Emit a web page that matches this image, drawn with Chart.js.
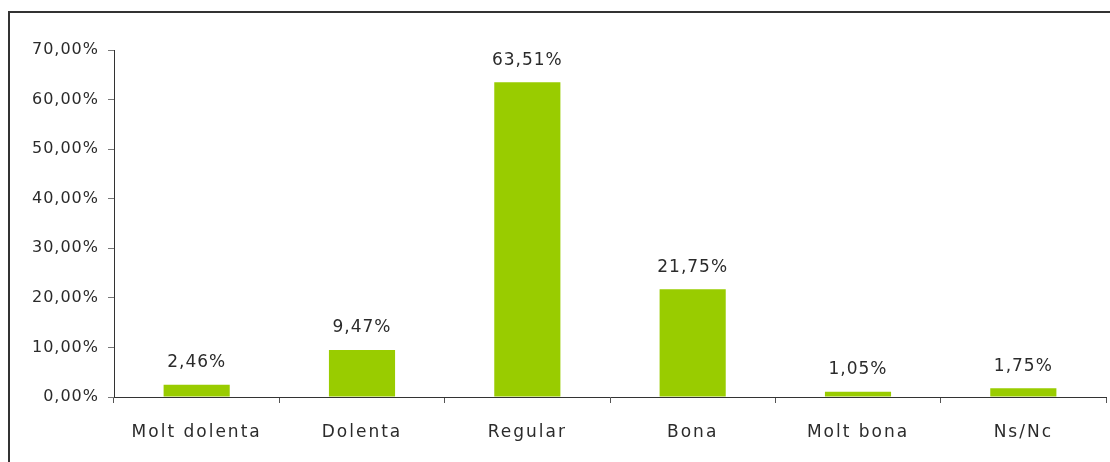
<!DOCTYPE html>
<html>
<head>
<meta charset="utf-8">
<script src="https://cdn.jsdelivr.net/npm/chart.js@4/dist/chart.umd.min.js"></script>
<style>
  html, body { margin: 0; padding: 0; background: #fff; }
  #wrap { position: relative; width: 1110px; height: 462px; }
  #frame { position: absolute; left: 8px; top: 11px; right: -5px; bottom: -5px;
           border-left: 2px solid #333; border-top: 2px solid #333; }
  canvas { position: absolute; left: 0; top: 0; }
</style>
</head>
<body>
<div id="wrap">
  <div id="frame"></div>
  <canvas id="chart" width="1110" height="462"></canvas>
</div>
<script>
// dades
const categories = ['Molt dolenta', 'Dolenta', 'Regular', 'Bona', 'Molt bona', 'Ns/Nc'];
const values = [2.46, 9.47, 63.51, 21.75, 1.05, 1.75];
const yTicks = [0, 10, 20, 30, 40, 50, 60, 70];

const FONT = "'Century Gothic', 'DejaVu Sans', sans-serif";
const TEXT = '#2b2b2b';

function pct(v) {
  return v.toFixed(2).replace('.', ',') + '%';
}

// etiquetes sobre les barres + espaiat de lletres
const valueLabels = {
  id: 'valueLabels',
  beforeDraw(chart) {
    chart.ctx.letterSpacing = '1px';
  },
  afterDatasetsDraw(chart) {
    const ctx = chart.ctx;
    const meta = chart.getDatasetMeta(0);
    ctx.save();
    ctx.font = '17px ' + FONT;
    ctx.fillStyle = TEXT;
    ctx.textAlign = 'center';
    ctx.textBaseline = 'middle';
    meta.data.forEach((bar, i) => {
      ctx.fillText(pct(values[i]), bar.x, bar.y - 22);
    });
    ctx.restore();
    // les etiquetes de l'eix x es dibuixen després (z: 1)
    ctx.letterSpacing = '2px';
  },
  afterDraw(chart) {
    chart.ctx.letterSpacing = '0px';
  }
};

new Chart(document.getElementById('chart'), {
  type: 'bar',
  data: {
    labels: categories,
    datasets: [{
      data: values,
      backgroundColor: '#99CC00',
      barPercentage: 0.4,
      categoryPercentage: 1
    }]
  },
  options: {
    responsive: false,
    animation: false,
    layout: { padding: { top: 50, right: 4, left: 0, bottom: 0 } },
    plugins: { legend: { display: false }, tooltip: { enabled: false } },
    scales: {
      x: {
        afterFit: s => { s.height = 65; },
        grid: { drawOnChartArea: false, drawTicks: true, tickLength: 6, color: '#555', offset: true },
        border: { color: '#333', width: 1 },
        ticks: { z: 1, color: TEXT, font: { family: FONT, size: 17 }, padding: 19 }
      },
      y: {
        min: 0, max: 70,
        afterFit: s => { s.width = 114; },
        afterBuildTicks: s => { s.ticks = yTicks.map(v => ({ value: v })); },
        grid: { drawOnChartArea: false, drawTicks: true, tickLength: 6, color: '#777' },
        border: { color: '#333', width: 1 },
        ticks: { color: TEXT, font: { family: FONT, size: 16 }, padding: 9, callback: v => pct(v) }
      }
    }
  },
  plugins: [valueLabels]
});
</script>
</body>
</html>
